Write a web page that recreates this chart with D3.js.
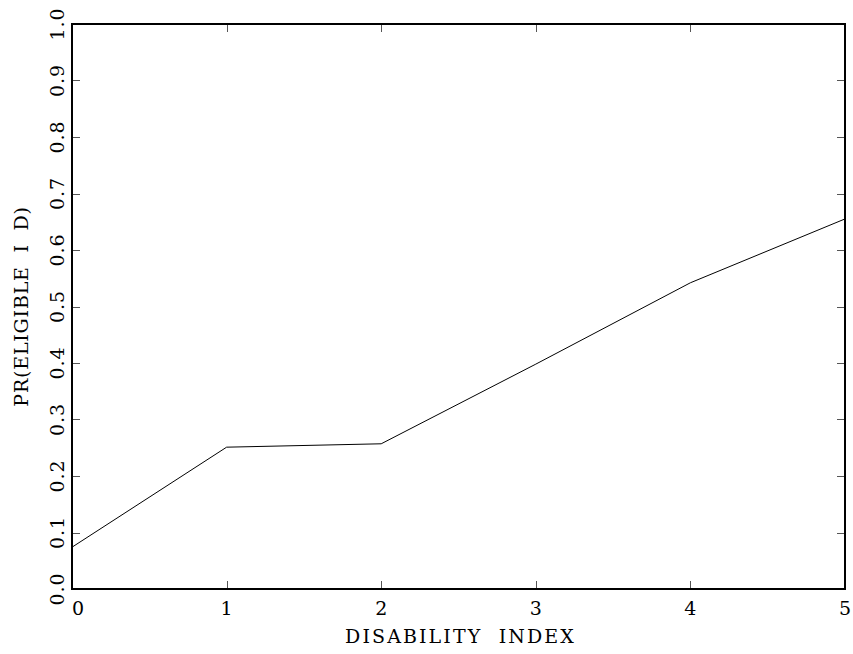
<!DOCTYPE html>
<html><head><meta charset="utf-8">
<script src="https://cdn.jsdelivr.net/npm/d3@7"></script>
<style>body{margin:0;background:#fff}svg{display:block}text{font-family:"DejaVu Serif",serif;fill:#000}</style>
</head><body>
<svg id="c" width="853" height="654"></svg>
<script>
const disability = [0, 1, 2, 3, 4, 5];
const prEligible = [0.074, 0.251, 0.257, 0.398, 0.542, 0.655];
const xTicks = [0, 1, 2, 3, 4, 5];
const yTicks = [0.0, 0.1, 0.2, 0.3, 0.4, 0.5, 0.6, 0.7, 0.8, 0.9, 1.0];
const xTitle = "DISABILITY  INDEX";
const yTitle = "PR(ELIGIBLE  I  D)";

const svg = d3.select("#c");
const L = 72, R = 845, T = 24, B = 589;
const x = d3.scaleLinear().domain([0, 5]).range([L, R]);
const y = d3.scaleLinear().domain([0, 1]).range([B, T]);

const tk = 8;
const gT = svg.append("g").attr("stroke", "#555").attr("stroke-width", 1);
xTicks.forEach(v => {
  const px = Math.round(x(v)) + 0.5;
  gT.append("line").attr("x1", px).attr("x2", px).attr("y1", B).attr("y2", B - tk);
  gT.append("line").attr("x1", px).attr("x2", px).attr("y1", T).attr("y2", T + tk);
});
yTicks.forEach(v => {
  const py = Math.round(y(v)) + 0.5;
  gT.append("line").attr("x1", L).attr("x2", L + tk).attr("y1", py).attr("y2", py);
  gT.append("line").attr("x1", R).attr("x2", R - tk).attr("y1", py).attr("y2", py);
});

const line = d3.line().x((d, i) => x(disability[i])).y(d => y(d));
svg.append("path").datum(prEligible).attr("d", line)
  .attr("fill", "none").attr("stroke", "#000").attr("stroke-width", 1);

svg.append("rect").attr("x", L).attr("y", T).attr("width", R - L).attr("height", B - T)
  .attr("fill", "none").attr("stroke", "#000").attr("stroke-width", 2);

xTicks.forEach(v => {
  let px = x(v);
  if (v === 0) px += 6;
  svg.append("text").attr("x", px).attr("y", 615).attr("text-anchor", "middle")
    .attr("font-size", 19).text(v);
});
yTicks.forEach(v => {
  svg.append("text").attr("transform", `translate(64,${y(v)}) rotate(-90)`)
    .attr("text-anchor", "middle").attr("font-size", 19).attr("letter-spacing", 1).text(v.toFixed(1));
});

svg.append("text").attr("x", (L + R) / 2 + 2).attr("y", 643).attr("text-anchor", "middle")
  .attr("font-size", 19).attr("letter-spacing", 2.1).style("white-space", "pre").text(xTitle);
svg.append("text").attr("transform", `translate(28,${(T + B) / 2}) rotate(-90)`)
  .attr("text-anchor", "middle").attr("font-size", 19).attr("letter-spacing", 0.8)
  .style("white-space", "pre").text(yTitle);
</script>
</body></html>
